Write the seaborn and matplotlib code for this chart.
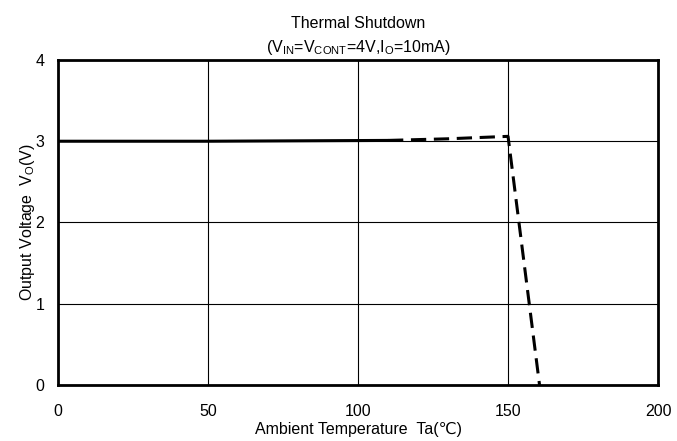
import numpy as np
import pandas as pd
import seaborn as sns
import matplotlib.pyplot as plt

# data
# solid part of the curve (overlaps the 3 V gridline)
temp_solid = [0, 50, 110]
vout_solid = [3.0, 3.0, 3.01]
# dashed part, up to shutdown and drop
temp_dash = [110, 130, 150, 160.5]
vout_dash = [3.01, 3.03, 3.06, 0.0]
x_ticks = [0, 50, 100, 150, 200]
y_ticks = [0, 1, 2, 3, 4]

solid = pd.DataFrame({'Ta': temp_solid, 'Vo': vout_solid})
dash = pd.DataFrame({'Ta': temp_dash, 'Vo': vout_dash})

sns.set_style('white')
plt.rcParams['font.family'] = ['Liberation Sans', 'DejaVu Sans']
plt.rcParams['mathtext.default'] = 'regular'
plt.rcParams['text.color'] = 'black'
plt.rcParams['axes.labelcolor'] = 'black'

fig = plt.figure(figsize=(6.77, 4.41), dpi=100)
ax = fig.add_axes([0.0857, 0.127, 0.8863, 0.737])

ax.set_xlim(0, 200)
ax.set_ylim(0, 4)
ax.set_xticks(x_ticks)
ax.set_yticks(y_ticks)
ax.grid(True, color='black', linewidth=0.8)
ax.set_axisbelow(True)

sns.lineplot(data=solid, x='Ta', y='Vo', ax=ax, color='black', linewidth=2.2, sort=False)
sns.lineplot(data=dash, x='Ta', y='Vo', ax=ax, color='black', linewidth=2.2,
             linestyle=(0, (5, 2.5)), sort=False)

for s in ax.spines.values():
    s.set_color('black')
    s.set_linewidth(2)

ax.tick_params(axis='both', length=0, labelsize=11.5, colors='black')
ax.tick_params(axis='x', pad=14)
ax.tick_params(axis='y', pad=10)

ax.set_title('Thermal Shutdown\n(V$_{IN}$=V$_{CONT}$=4V,I$_{O}$=10mA)',
             fontsize=11.5, linespacing=1.5, pad=6, color='black')
ax.set_xlabel('Ambient Temperature  Ta(℃)', fontsize=11.5, labelpad=2)
ax.set_ylabel('Output Voltage  V$_{O}$(V)', fontsize=11.5, labelpad=-1)

plt.savefig('out.png', dpi=100)
